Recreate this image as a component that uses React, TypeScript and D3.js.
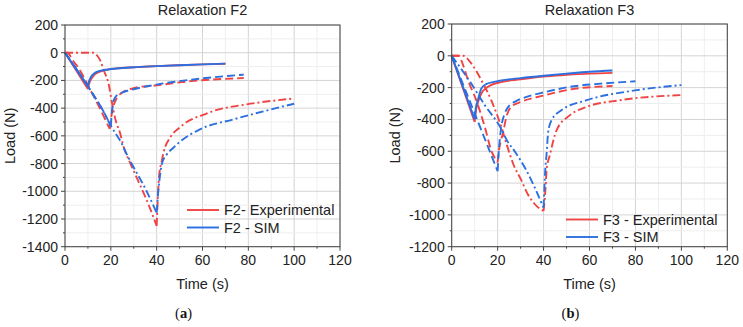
import React, { useEffect } from 'react'
import * as d3 from 'd3'

// Load (N) vs time (s). [t, load]
const f2Exp10 = [[0, 0], [10, -262], [10.5, -225], [11.8, -180], [13, -155], [14.7, -140], [17.6, -125], [20, -118], [31.4, -104], [40, -97], [50, -90], [60, -84], [70, -80]]
const f2Exp20 = [[0, 0], [1, 0], [3.6, -60], [5.8, -108], [10, -235], [15, -395], [19.5, -550], [20.5, -433], [22.7, -325], [24, -300], [30.7, -253], [40, -235], [55, -205], [78, -183]]
const f2Exp40 = [[0, 0], [12.5, 0], [14, -20], [15.5, -60], [17, -130], [19.1, -230], [20.5, -361], [22, -481], [24, -578], [25.6, -680], [28, -780], [31.3, -902], [34, -1000], [37, -1119], [40, -1250], [40.5, -1050], [41, -900], [42.2, -782], [43, -720], [45.8, -614], [50, -540], [53.1, -500], [60, -450], [64.7, -421], [79.3, -373], [100, -330]]
const f2Sim10 = [[0, 0], [10, -242], [10.5, -205], [11, -185], [12, -160], [13.2, -144], [15, -132], [17, -125], [20, -118], [30, -105], [40, -97], [50, -90], [60, -84], [70, -79]]
const f2Sim20 = [[0, 0], [10, -242], [13, -320], [16, -400], [20, -528], [20.5, -420], [21, -360], [22, -320], [24.7, -289], [28.4, -270], [40, -230], [57.5, -190], [78, -158]]
const f2Sim40 = [[0, 0], [10, -242], [13, -320], [16, -400], [20, -528], [24.9, -660], [27, -734], [35.6, -999], [40, -1155], [40.7, -1000], [41.5, -880], [42.2, -806], [44.4, -734], [47.3, -686], [50, -645], [58.9, -553], [73.5, -481], [100, -368]]

const f3Exp10 = [[0, 0], [10, -415], [10.6, -340], [11.5, -290], [12.9, -237], [15.8, -195], [21.6, -165], [30, -148], [40, -130], [50, -120], [60, -112], [70, -107]]
const f3Exp20 = [[0, 0], [3, 0], [5, -60], [7.1, -153], [10.7, -279], [14.4, -447], [17.2, -594], [20, -670], [20.5, -600], [21.3, -540], [22.3, -488], [23.8, -384], [25.9, -321], [30.3, -289], [40, -250], [51.5, -212], [70, -190]]
const f3Exp40 = [[0, 0], [5, 0], [8.5, -48], [12.9, -153], [17.2, -279], [21.6, -447], [24, -560], [26.8, -680], [30.3, -782], [33.2, -872], [36, -930], [40, -975], [40.5, -900], [40.9, -820], [41.3, -720], [42.8, -620], [45.7, -467], [51.5, -373], [58.8, -321], [73.3, -279], [100, -247]]
const f3Sim10 = [[0, 0], [10, -400], [10.5, -330], [11.4, -279], [12.9, -205], [15, -178], [21.6, -155], [30, -140], [40, -125], [50, -112], [60, -100], [70, -92]]
const f3Sim20 = [[0, 0], [10, -362], [20, -725], [20.5, -600], [20.9, -530], [21.6, -447], [23.1, -362], [24.6, -321], [28, -285], [32.6, -258], [40, -230], [51.5, -195], [65, -175], [80, -160]]
const f3Sim40 = [[0, 0], [8.5, -174], [14.4, -310], [21.6, -460], [24, -530], [27.4, -600], [32.5, -720], [40, -955], [40.3, -850], [40.8, -700], [41.3, -620], [42, -480], [43.5, -404], [47.9, -341], [58.8, -279], [80.5, -216], [100, -184]]

const xTicks = [0, 20, 40, 60, 80, 100, 120]
const f2YTicks = [200, 0, -200, -400, -600, -800, -1000, -1200, -1400]
const f3YTicks = [200, 0, -200, -400, -600, -800, -1000, -1200]

const RED = '#f04444'
const BLUE = '#2b6fe0'
const DASH = { solid: null, dash: '8,4', dashdot: '8,3,2,3' }
const FONT = "'Liberation Sans', Arial, sans-serif"

type Pt = number[]

const Panel = ({ left, right, top, bottom, yTicks, title, letter, expLabel, simLabel, exp, sim, labelX, legendX, legendY }: any) => {
  const x = d3.scaleLinear().domain([0, 120]).range([left, right])
  const y = d3.scaleLinear().domain([yTicks[yTicks.length - 1], yTicks[0]]).range([bottom, top])
  const line = d3.line<Pt>().x((d) => x(d[0])).y((d) => y(d[1])).curve(d3.curveMonotoneX)
  // loading ramp and relaxation drawn as two pieces so the peak stays sharp
  const pathOf = (s: Pt[]) => {
    const k = d3.minIndex(s, (d) => d[1])
    return (line(s.slice(0, k + 1)) || '') + (line(s.slice(k)) || '')
  }
  const xMinor = d3.range(0, 121, 10)
  const yMinor = d3.range(yTicks[yTicks.length - 1], yTicks[0] + 1, 100)
  const styles = ['solid', 'dash', 'dashdot']
  const cx = (left + right) / 2
  const cy = (top + bottom) / 2
  return (
    <g>
      {/* grid */}
      {xMinor.map((t) => (
        <line key={'gx' + t} x1={x(t)} x2={x(t)} y1={top} y2={bottom} stroke={t % 20 === 0 ? '#d4d4d4' : '#eeeeee'} strokeWidth={1} />
      ))}
      {yMinor.map((v) => (
        <line key={'gy' + v} x1={left} x2={right} y1={y(v)} y2={y(v)} stroke={v % 200 === 0 ? '#d4d4d4' : '#eeeeee'} strokeWidth={1} />
      ))}
      {exp.map((s: Pt[], i: number) => (
        <path key={'e' + i} d={pathOf(s)} fill="none" stroke={RED} strokeWidth={1.9} strokeDasharray={DASH[styles[i]] || undefined} />
      ))}
      {sim.map((s: Pt[], i: number) => (
        <path key={'s' + i} d={pathOf(s)} fill="none" stroke={BLUE} strokeWidth={1.9} strokeDasharray={DASH[styles[i]] || undefined} />
      ))}
      <rect x={left} y={top} width={right - left} height={bottom - top} fill="none" stroke="#444" strokeWidth={1} />
      {xMinor.map((t) => (
        <line key={'tx' + t} x1={x(t)} x2={x(t)} y1={bottom} y2={bottom + (t % 20 === 0 ? 4 : 2)} stroke="#444" />
      ))}
      {yMinor.map((v) => (
        <line key={'ty' + v} x1={left} x2={left - (v % 200 === 0 ? 4 : 2)} y1={y(v)} y2={y(v)} stroke="#444" />
      ))}
      {xTicks.map((t) => (
        <text key={'lx' + t} x={x(t)} y={bottom + 18.5} textAnchor="middle" fontSize={14} fontFamily={FONT} fill="#222">{t}</text>
      ))}
      {yTicks.map((v: number) => (
        <text key={'ly' + v} x={left - 7} y={y(v) + 5} textAnchor="end" fontSize={14} fontFamily={FONT} fill="#222">{v}</text>
      ))}
      <text x={cx} y={14.5} textAnchor="middle" fontSize={14.5} fontFamily={FONT} fill="#222">{title}</text>
      <text x={cx} y={288.5} textAnchor="middle" fontSize={14.5} fontFamily={FONT} fill="#222">Time (s)</text>
      <text transform={`translate(${labelX},${cy}) rotate(-90)`} textAnchor="middle" fontSize={14.5} fontFamily={FONT} fill="#222">Load (N)</text>
      {/* legend */}
      <line x1={legendX} x2={legendX + 32} y1={legendY} y2={legendY} stroke={RED} strokeWidth={1.9} />
      <line x1={legendX} x2={legendX + 32} y1={legendY + 17.5} y2={legendY + 17.5} stroke={BLUE} strokeWidth={1.9} />
      <text x={legendX + 37} y={legendY + 5} fontSize={14.5} fontFamily={FONT} fill="#222">{expLabel}</text>
      <text x={legendX + 37} y={legendY + 22.5} fontSize={14.5} fontFamily={FONT} fill="#222">{simLabel}</text>
      <text x={cx - 19} y={318} textAnchor="middle" fontSize={14.5} fontFamily="'Liberation Serif', 'Times New Roman', serif" fill="#111">
        (<tspan fontWeight="bold">{letter}</tspan>)
      </text>
    </g>
  )
}

const App = () => {
  useEffect(() => {
    document.body.style.margin = '0'
  }, [])

  return (
    <svg width={743} height={327} style={{ display: 'block', background: '#fff' }}>
      <Panel left={65} right={340} top={25} bottom={246.7} yTicks={f2YTicks} title="Relaxation F2" letter="a"
        expLabel="F2- Experimental" simLabel="F2 - SIM" exp={[f2Exp10, f2Exp20, f2Exp40]} sim={[f2Sim10, f2Sim20, f2Sim40]}
        labelX={15} legendX={187} legendY={210} />
      <Panel left={451.7} right={727.3} top={24} bottom={246.7} yTicks={f3YTicks} title="Relaxation F3" letter="b"
        expLabel="F3 - Experimental" simLabel="F3 - SIM" exp={[f3Exp10, f3Exp20, f3Exp40]} sim={[f3Sim10, f3Sim20, f3Sim40]}
        labelX={400} legendX={566} legendY={219.5} />
    </svg>
  )
}

export default App
